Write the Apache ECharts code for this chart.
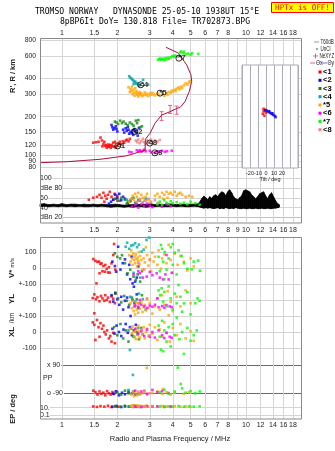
<!DOCTYPE html>
<html>
<head>
<meta charset="utf-8">
<script src="https://cdn.jsdelivr.net/npm/echarts@6/dist/echarts.min.js"></script>
<style>html,body{margin:0;padding:0;background:#fff}#c{width:335px;height:451px}</style>
</head>
<body>
<div id="c"></div>
<script>
// ---- axis ticks ----
const freqLabelsTop = [1, 1.5, 2, 3, 4, 5, 6, 7, 8, 10, 12, 14, 16, 18];
const freqLabelsMid = [1, 1.5, 2, 3, 4, 5, 6, 7, 8, 9, 10, 12, 14, 16, 18];
const freqGridLines = [1, 1.5, 2, 3, 4, 5, 6, 7, 8, 9, 10, 12, 14, 16, 18];
const heightTicks = [80, 90, 100, 120, 150, 200, 300, 400, 600, 800];
// closely spaced range labels are split over three label rows so none is dropped
const heightLabelRows = [[100, 150, 300, 600], [90, 120, 200, 400, 800], [80]];
const ampTicks = [20, 40, 60, 80, 100];
const ampTickText = { 20: 'dBn 20', 40: '40', 60: '60', 80: 'dBe 80', 100: '100' };

// ---- echo classes ----
const classNames = ['<1', '<2', '<3', '<4', '*5', '<6', '*7', '<8'];
const classColors = ['#ff0000', '#0000ff', '#118a11', '#00a8a8', '#ffa500', '#ff00ff', '#00ff00', '#f08080'];

// virtual range R' (km) versus frequency (MHz)
const rangeByClass = [
  [[1.48,125],[1.53,126],[1.58,127],[1.62,137],[1.65,130],[1.68,122],[1.7,127],[1.72,118],[1.74,120],[1.75,114],[1.77,117],[1.79,121],[1.8,116],[1.82,119],[1.84,114],[1.86,120],[1.88,117],[1.9,125],[1.94,127],[1.98,118],[2.02,122],[2.06,127],[2.1,121],[2.14,128],[2.18,125],[2.22,130],[2.26,132],[2.3,128],[2.34,134],[1.92,116],[1.96,114],[1.66,117]],
  [[1.86,172],[1.88,165],[1.9,158],[1.93,162],[1.96,168],[1.98,160],[2.0,153],[2.15,158],[2.18,150],[2.22,162],[2.25,155],[2.28,166],[2.32,147],[2.36,152],[2.4,148],[2.44,144],[2.47,160],[2.5,155],[2.54,150],[2.58,142],[2.62,163],[2.3,158],[2.42,156]],
  [[1.94,183],[1.98,180],[2.02,175],[2.07,186],[2.12,178],[2.16,183],[2.22,176],[2.28,172],[2.34,180],[2.45,170],[2.52,186],[2.56,178],[2.6,188],[2.66,165],[2.72,168],[2.4,175]],
  [[2.32,416],[2.35,405],[2.39,398],[2.42,390],[2.45,382],[2.48,372],[2.5,378],[2.53,362],[2.56,368],[2.6,355],[2.63,348],[2.66,358],[2.76,390],[2.94,358],[2.45,360]],
  [[2.36,330],[2.38,318],[2.4,345],[2.42,300],[2.44,325],[2.46,310],[2.48,292],[2.5,335],[2.52,305],[2.54,318],[2.56,296],[2.58,308],[2.6,288],[2.62,300],[2.65,312],[2.68,295],[2.7,305],[2.74,290],[2.78,298],[2.82,310],[2.86,295],[2.9,302],[2.95,290],[3.0,305],[3.05,297],[3.1,308],[3.15,300],[3.2,294],[3.3,303],[3.35,297],[3.5,300],[3.6,292],[3.7,305],[3.75,296],[3.8,312],[3.9,308],[3.95,320],[4.0,315],[4.1,325],[4.15,318],[4.2,332],[4.3,340],[4.35,328],[4.45,345],[4.5,335],[4.6,352],[4.7,365],[4.8,358],[4.9,372],[4.95,380],[2.3,340],[2.34,312]],
  [[2.32,106],[2.39,105],[2.55,109],[2.6,107],[2.65,109],[2.7,106],[2.75,108],[2.8,110],[2.85,107],[3.0,108],[3.05,105],[3.2,104],[3.3,107],[3.42,106],[3.5,108],[3.62,106],[3.72,107],[3.95,108]],
  [[3.33,560],[3.38,566],[3.42,572],[3.46,560],[3.5,566],[3.55,570],[3.6,556],[3.65,575],[3.7,562],[3.76,580],[3.82,570],[3.9,585],[3.98,600],[4.05,592],[4.12,604],[4.2,596],[4.4,640],[4.45,650],[4.55,630],[4.6,648],[4.7,620],[4.85,626],[5.0,615],[5.1,630],[5.5,622]],
  [[2.52,130],[2.56,126],[2.6,132],[2.64,124],[2.7,128],[2.75,134],[2.8,126],[2.85,122],[2.9,130],[2.95,125],[3.05,132],[3.1,124],[3.2,130],[3.3,127],[3.4,131]]
];

// echo amplitude (dB)
const ampByClass = [
  [[1.4,56],[1.48,60],[1.55,62],[1.6,66],[1.64,60],[1.68,70],[1.72,64],[1.75,58],[1.78,66],[1.82,72],[1.86,62],[1.9,56],[1.93,68],[1.97,58],[2.0,64],[2.05,54],[1.7,52]],
  [[1.8,48],[1.85,52],[1.9,56],[1.95,66],[2.0,60],[2.05,68],[2.1,55],[2.15,62],[2.2,58],[2.28,50],[2.35,54]],
  [[1.95,58],[2.0,54],[2.1,60],[2.2,56],[2.3,52],[2.4,58],[2.5,50],[2.6,55],[2.25,48]],
  [[2.25,56],[2.35,52],[2.45,60],[2.55,48],[2.65,54],[2.75,50],[2.85,58]],
  [[2.32,52],[2.38,58],[2.42,64],[2.46,56],[2.5,68],[2.55,62],[2.6,70],[2.65,58],[2.7,66],[2.75,60],[2.8,54],[2.85,62],[2.9,68],[2.95,56],[3.0,50],[3.2,64],[3.3,68],[3.4,62],[3.5,70],[3.6,66],[3.7,72],[3.8,68],[3.9,70],[4.0,66],[4.1,72],[4.2,64],[4.3,68],[4.4,70],[4.5,66],[4.7,62],[4.9,64],[5.1,62],[3.55,58],[3.75,60]],
  [[2.4,42],[2.5,45],[2.6,40],[2.7,47],[2.8,43],[2.9,48],[3.0,44],[3.1,41],[3.3,46],[3.5,42],[3.7,47],[3.9,43]],
  [[3.3,48],[3.4,52],[3.5,46],[3.6,55],[3.7,50],[3.8,47],[3.9,53],[4.0,49],[4.2,51],[4.4,48],[4.6,50],[4.8,47],[5.0,52],[5.3,49],[5.6,46]],
  [[2.55,52],[2.65,56],[2.75,50],[2.85,54],[2.95,58],[3.05,52],[3.2,55],[3.35,50]]
];

// background noise band: [MHz, low dB, high dB]
const noiseBand = [
  [0.76,42,47],[0.8,43,48],[0.85,42,46],[0.9,43,47],[0.95,42,46],[1.0,43,48],[1.06,42,46],[1.12,43,47],[1.18,42,47],[1.25,43,46],[1.32,42,47],[1.4,42,46],[1.48,43,47],[1.56,42,46],[1.65,43,47],[1.75,42,46],[1.85,41,46],[1.95,42,47],[2.06,42,46],[2.18,41,45],[2.3,42,46],[2.43,41,46],[2.57,42,47],[2.72,42,46],[2.87,41,47],[3.03,42,48],[3.2,42,46],[3.38,43,47],[3.57,42,46],[3.77,42,48],[3.98,43,47],[4.2,42,46],[4.44,43,47],[4.69,42,46],[4.95,42,47],[5.23,43,47],[5.52,42,48],
  [5.75,40,58],[5.9,39,63],[6.05,40,60],[6.2,39,56],[6.35,40,62],[6.51,39,59],[6.68,38,64],[6.85,39,66],[7.02,40,62],[7.2,38,68],[7.38,39,72],[7.57,38,70],[7.76,40,64],[7.95,39,72],[8.15,38,76],[8.36,39,70],[8.57,38,62],[8.79,40,58],[9.01,39,56],[9.24,38,60],[9.47,38,64],[9.71,39,74],[9.96,38,76],[10.21,38,74],[10.47,39,72],[10.73,38,66],[11.0,38,62],[11.28,39,58],[11.57,38,62],[11.86,38,68],[12.16,39,70],[12.47,38,72],[12.78,38,64],[13.1,39,58],[13.43,38,66],[13.77,38,70],[14.12,39,62],[14.48,39,54],[14.85,40,48],[15.2,41,46]
];

// Doppler velocity V* (m/s)
const velByClass = [
  [[1.48,56],[1.52,45],[1.56,38],[1.59,40],[1.62,25],[1.64,29],[1.68,12],[1.72,19],[1.75,-5],[1.6,-33],[1.66,-20],[1.71,-23],[1.78,-28],[1.82,-29],[1.86,29],[1.9,81],[1.92,150],[1.54,-96],[1.95,-10],[1.8,5]],
  [[1.88,40],[1.94,12],[1.97,-23],[2.02,133],[2.08,-10],[2.14,30],[2.2,54],[2.26,-40],[2.32,20],[2.39,71],[2.42,-96],[2.46,-117],[2.5,-85],[2.55,-60],[2.6,10],[2.35,-70]],
  [[1.94,92],[2.0,70],[2.07,60],[2.12,80],[2.2,30],[2.27,-33],[2.35,-10],[2.45,-54],[2.52,-75],[2.58,-40],[2.66,-85],[2.72,-20]],
  [[2.22,133],[2.26,158],[2.32,120],[2.38,140],[2.44,144],[2.5,155],[2.56,130],[2.62,146],[2.71,102],[2.78,115],[2.88,175],[2.98,190],[2.66,-60],[2.45,-30]],
  [[2.32,80],[2.36,40],[2.38,110],[2.4,60],[2.42,20],[2.44,90],[2.46,50],[2.48,70],[2.5,30],[2.52,85],[2.54,55],[2.56,10],[2.58,65],[2.6,45],[2.62,100],[2.64,25],[2.66,75],[2.7,50],[2.74,-10],[2.78,60],[2.82,35],[2.86,130],[2.9,80],[2.95,15],[3.0,55],[3.05,-20],[3.1,95],[3.15,40],[3.2,70],[3.3,20],[3.35,110],[3.45,-5],[3.5,60],[3.6,85],[3.7,30],[3.8,145],[3.9,50],[4.0,-30],[4.1,90],[4.25,20],[4.4,75],[4.6,40],[4.8,-15],[5.0,60],[5.2,10]],
  [[2.45,-40],[2.6,-20],[2.65,-33],[2.75,-60],[2.89,-54],[3.0,-25],[3.1,-45],[3.27,-33],[3.4,-60],[3.55,-71],[3.65,-40],[3.7,81],[3.8,-71],[3.95,-30]],
  [[3.35,70],[3.4,-20],[3.45,144],[3.5,120],[3.55,40],[3.62,100],[3.7,-10],[3.8,60],[3.9,130],[4.0,20],[4.1,96],[4.2,-40],[4.3,110],[4.47,75],[4.6,30],[4.8,-5],[5.07,-8],[5.2,40],[5.5,46],[5.62,-17],[3.6,-70],[4.0,150]],
  [[2.6,30],[2.8,-10],[3.0,50]]
];

// echo location YL (km)
const ylByClass = [
  [[1.47,12],[1.5,35],[1.53,5],[1.56,18],[1.6,-8],[1.63,25],[1.66,10],[1.7,-5],[1.72,30],[1.75,0],[1.78,15],[1.82,-12],[1.86,22],[1.9,8],[1.94,-20],[1.5,-83],[1.95,40]],
  [[1.86,30],[1.9,-10],[1.95,45],[2.0,5],[2.05,-30],[2.1,20],[2.15,-60],[2.2,-5],[2.26,15],[2.3,-45],[2.36,-100],[2.42,0],[2.48,-20],[2.55,35],[2.6,-50]],
  [[1.95,40],[2.02,10],[2.1,-15],[2.18,25],[2.25,-5],[2.32,-30],[2.4,15],[2.48,-40],[2.55,5],[2.65,-20],[2.72,30]],
  [[2.35,20],[2.5,-10],[2.62,40],[2.75,5],[2.85,-60]],
  [[2.36,-20],[2.4,-50],[2.42,-5],[2.45,-70],[2.48,-35],[2.5,-90],[2.52,-15],[2.55,-60],[2.58,-40],[2.6,-80],[2.62,-25],[2.65,-55],[2.7,-10],[2.74,-75],[2.78,-45],[2.82,-30],[2.86,-65],[2.9,5],[2.95,-50],[3.0,-20],[3.1,-85],[3.2,-40],[3.3,10],[3.4,-60],[3.5,30],[3.6,-30],[3.75,55],[3.9,-10],[4.0,-70],[4.2,20],[4.4,-40],[4.7,60],[5.0,-20],[3.8,-95]],
  [[2.5,-35],[2.6,-45],[2.7,-30],[2.8,-40],[2.9,-50],[3.0,-35],[3.1,-42],[3.2,-30],[3.35,-45],[3.5,-38],[3.6,-48],[3.7,-32],[3.85,-40],[3.95,-45],[2.65,0],[3.3,10]],
  [[3.35,60],[3.42,30],[3.48,73],[3.55,-10],[3.6,50],[3.7,-40],[3.8,85],[3.9,10],[4.0,-60],[4.1,40],[4.2,-20],[4.3,94],[4.4,20],[4.5,-73],[4.6,-21],[4.8,50],[5.0,-90],[5.3,-21],[5.45,10],[5.6,-5]],
  [[2.6,-20],[2.9,10]]
];

// echo location XL (km)
const xlByClass = [
  [[1.47,60],[1.5,45],[1.55,75],[1.58,30],[1.62,55],[1.65,20],[1.68,40],[1.7,0],[1.73,-15],[1.76,10],[1.8,-40],[1.83,-25],[1.86,-60],[1.9,-5],[1.94,-70],[1.6,-30],[1.52,-50]],
  [[1.88,20],[1.93,-10],[1.98,40],[2.04,0],[2.1,-25],[2.16,15],[2.22,50],[2.28,-5],[2.34,30],[2.4,-20],[2.46,10],[2.52,45],[2.58,-15]],
  [[1.92,30],[2.0,-20],[2.08,50],[2.15,-40],[2.22,10],[2.3,-60],[2.38,20],[2.46,-30],[2.55,0],[2.62,-45],[2.7,25]],
  [[2.3,10],[2.45,-30],[2.6,25],[2.34,-112],[2.75,-15]],
  [[2.36,20],[2.4,-10],[2.42,35],[2.45,0],[2.48,-30],[2.5,15],[2.52,-45],[2.55,25],[2.58,-20],[2.6,40],[2.62,5],[2.65,-35],[2.7,10],[2.74,-15],[2.78,30],[2.82,-40],[2.86,0],[2.9,20],[2.95,-25],[3.0,45],[3.1,-10],[3.2,30],[3.3,-50],[3.4,15],[3.5,-30],[3.6,60],[3.7,-5],[3.85,-60],[4.0,25],[4.2,-20],[4.4,50],[4.7,-40],[5.0,5],[5.2,-55]],
  [[2.5,20],[2.6,-10],[2.7,5],[2.8,-25],[2.9,15],[3.0,-30],[3.1,0],[3.2,-35],[3.35,10],[3.5,-20],[3.6,-38],[3.7,-5],[3.85,-30],[3.95,-36]],
  [[3.35,40],[3.4,-30],[3.5,70],[3.6,10],[3.7,-60],[3.8,30],[3.9,-90],[4.0,50],[4.1,-20],[4.2,90],[4.35,-45],[4.5,0],[4.6,-137],[4.8,25],[5.0,-55],[5.2,-20],[5.4,10],[3.45,-110],[3.55,-120]],
  [[2.7,15],[3.0,-20]]
];

// polarization PP (deg)
const ppByClass = [
  [[1.48,-75],[1.52,-85],[1.56,-100],[1.6,-80],[1.64,-95],[1.68,-88],[1.72,-105],[1.76,-78],[1.8,-92],[1.84,-100],[1.88,-84],[1.92,-96],[1.98,-80]],
  [[1.9,-95],[1.96,-80],[2.04,-105],[2.12,-88],[2.2,-98],[2.3,-82],[2.4,-92],[2.5,-100]],
  [[2.0,-85],[2.1,-100],[2.2,-75],[2.3,-92],[2.45,-80],[2.6,-96]],
  [[2.3,-70],[2.45,-85],[2.43,26],[2.65,-95],[2.8,-78]],
  [[2.38,-100],[2.42,-85],[2.46,-110],[2.5,-90],[2.55,-105],[2.6,-80],[2.65,-100],[2.7,-92],[2.8,-85],[2.89,71],[2.9,-100],[3.1,-90],[3.3,-80],[3.54,-64],[3.5,-95],[3.7,-85],[3.9,-100],[4.1,-90],[4.6,-95],[4.9,-85]],
  [[2.5,-75],[2.7,-80],[2.9,-95],[3.1,-70],[3.3,-85],[3.5,-78],[3.8,-90]],
  [[3.4,-85],[3.6,-70],[3.8,-95],[4.26,73],[4.1,-80],[4.42,-32],[4.5,-60],[4.7,-88],[5.0,-78],[5.3,-92],[5.6,-80]],
  [[2.6,-88],[2.8,-75],[3.0,-92]]
];

// EP (deg)
const epByClass = [
  [[1.48,20],[1.55,15],[1.62,25],[1.7,18],[1.78,30],[1.86,14],[1.95,22],[2.02,17]],
  [[1.88,18],[1.98,26],[2.1,15],[2.2,22],[2.32,19],[2.45,28],[2.55,16]],
  [[1.95,24],[2.08,16],[2.2,30],[2.35,18],[2.5,22],[2.65,15]],
  [[2.3,20],[2.45,14],[2.6,26],[2.78,18]],
  [[2.36,25],[2.4,35],[2.44,18],[2.48,30],[2.52,40],[2.56,22],[2.6,32],[2.65,16],[2.7,28],[2.78,20],[2.86,34],[2.95,18],[3.1,24],[3.3,16],[3.5,28],[3.7,20],[3.9,15],[4.1,26],[4.4,18],[4.7,22],[5.0,16]],
  [[2.5,20],[2.7,15],[2.9,24],[3.1,18],[3.3,22],[3.6,16],[3.9,20]],
  [[3.4,20],[3.6,15],[3.8,22],[4.0,18],[4.3,25],[4.6,16],[4.9,20],[5.2,18],[5.6,22]],
  [[2.6,20],[2.85,16],[3.1,24]]
];

// class markers placed on the range plot: [MHz, km, label]
const classMarkers = [[2.01,118,'<1'],[2.49,153,'<2'],[2.68,356,'<4'],[3.41,306,'*5'],[3.2,104,'<6'],[4.32,576,'*7'],[3.0,124,'<8']];

// real-height profile (MHz, km)
const profile = [[0.76,87],[1.06,88.5],[1.61,92.5],[2.25,98.6],[2.83,109],[2.84,133],[3.01,148],[3.2,177],[3.48,206],[3.87,219],[4.2,232],[4.38,236],[4.66,262],[4.92,316],[5.07,379],[5.02,427],[4.76,511],[4.29,632],[3.68,701]];
// profile uncertainty bars: [MHz, low km, high km]
const profileErr = [[3.48,187,219],[3.87,212,245],[4.2,209,242]];

// tilt (deg) versus range (km)
const tiltRed = [[-4,212],[-3,222],[-2,205],[-1,228],[0,216],[-3,232]];
const tiltBlue = [[-1,226],[1,224],[3,220],[5,216],[7,212],[9,208],[11,204],[12,200],[4,222],[8,214]];

// ---------------- layout ----------------
const LEFT = 40, RIGHT = 34;
const FONT = 'Liberation Sans, Arial, sans-serif';
const MONO = 'DejaVu Sans Mono, monospace';
const GRID_COLOR = '#d4d4d4';
const TXT = '#222';
const H_MIN = 72.2, H_MAX = 830;

const grids = [
  { left: LEFT, right: RIGHT, top: 38, height: 135 },   // range
  { left: LEFT, right: RIGHT, top: 173, height: 49.5 }, // amplitude
  { left: LEFT, right: RIGHT, top: 237, height: 47 },   // V*
  { left: LEFT, right: RIGHT, top: 284, height: 32 },   // YL
  { left: LEFT, right: RIGHT, top: 316, height: 49 },   // XL
  { left: LEFT, right: RIGHT, top: 365, height: 35 },   // PP
  { left: LEFT, right: RIGHT, top: 400, height: 19 },   // EP
  { left: 242, top: 65, width: 56, height: 103, show: true, backgroundColor: '#fff', borderColor: '#aab', borderWidth: 1, z: 2 } // tilt inset
];

const fmtFreq = v => String(Math.round(v * 10) / 10);

function freqAxis(gi, labels, position, margin) {
  return {
    type: 'log', logBase: 10, gridIndex: gi, min: 0.76, max: 19.9,
    position: position || 'bottom',
    axisLine: { show: false },
    axisTick: { show: false, customValues: freqGridLines },
    axisLabel: labels ? { show: true, hideOverlap: false, customValues: labels, fontSize: 7, fontFamily: FONT, color: TXT, margin: margin, formatter: fmtFreq } : { show: false },
    splitLine: { show: true, lineStyle: { color: GRID_COLOR, width: 1 } },
    minorTick: { show: false }, minorSplitLine: { show: false }
  };
}

const xAxes = [
  freqAxis(0, freqLabelsTop, 'top', 1.5),
  freqAxis(1, freqLabelsMid, 'bottom', 4),
  freqAxis(2), freqAxis(3), freqAxis(4), freqAxis(5),
  freqAxis(6, freqLabelsTop, 'bottom', 2.5),
  {
    type: 'value', gridIndex: 7, min: -30, max: 40, interval: 10, z: 3,
    axisLine: { show: false }, axisTick: { show: false },
    axisLabel: { fontSize: 5.5, fontFamily: FONT, color: TXT, margin: 2, formatter: v => (v >= -20 && v <= 20 ? String(v) : '') },
    splitLine: { show: true, lineStyle: { color: '#aab' } },
    name: 'Tilt / deg', nameLocation: 'middle', nameGap: 8, nameTextStyle: { fontSize: 5.5, fontFamily: FONT, color: TXT }
  }
];

function sideAxis(gi, opts) {
  return Object.assign({
    gridIndex: gi, position: 'left', axisLine: { show: false },
    splitLine: { show: true, lineStyle: { color: GRID_COLOR } }
  }, opts);
}
const lbl = (extra) => Object.assign({ fontSize: 7, fontFamily: FONT, color: TXT, hideOverlap: false, showMinLabel: true, showMaxLabel: true }, extra);
const logHeightTicks = heightTicks.map(v => Math.log10(v));
const fmtHeight = v => String(Math.round(Math.pow(10, v)));

const yAxes = [
  // range scale for the echoes (log)
  { type: 'log', logBase: 10, gridIndex: 0, min: H_MIN, max: H_MAX,
    axisLine: { show: false }, axisTick: { show: false }, axisLabel: { show: false },
    splitLine: { show: false }, minorTick: { show: false }, minorSplitLine: { show: false } },
  sideAxis(1, { type: 'value', min: 10, max: 110,
    axisTick: { show: false, customValues: ampTicks },
    axisLabel: lbl({ customValues: ampTicks, inside: true, margin: 0, backgroundColor: '#fff', formatter: v => ampTickText[Math.round(v)] || '' }),
    splitLine: { show: true, lineStyle: { color: ['#bcbcec', GRID_COLOR, GRID_COLOR, GRID_COLOR, GRID_COLOR] } } }),
  sideAxis(2, { type: 'value', min: -100, max: 193.75,
    axisTick: { show: false, customValues: [0, 100] },
    axisLabel: lbl({ customValues: [0, 100], margin: 3.5 }) }),
  sideAxis(3, { type: 'value', min: -100, max: 100,
    axisTick: { show: false, customValues: [0, 100] },
    axisLabel: lbl({ customValues: [0, 100], margin: 3.5, formatter: v => (v === 100 ? '+-100' : String(v)) }) }),
  sideAxis(4, { type: 'value', min: -206.25, max: 100,
    axisTick: { show: false, customValues: [-100, 0, 100] },
    axisLabel: lbl({ customValues: [-100, 0, 100], margin: 3.5, formatter: v => (v === 100 ? '+-100' : String(v)) }) }),
  sideAxis(5, { type: 'value', min: -135, max: 90,
    axisTick: { show: false, customValues: [-90, 90] },
    axisLabel: lbl({ customValues: [-90, 90], inside: true, margin: 1, backgroundColor: '#fff', padding: [1, 1, 1, 6], formatter: v => (v > 0 ? 'x 90' : 'o -90') }),
    splitLine: { show: true, lineStyle: { color: '#6a6a6a', width: 1.2 } } }),
  sideAxis(6, { type: 'log', logBase: 10, min: 0.01, max: 1000,
    axisTick: { show: false, customValues: [0.1, 10] },
    axisLabel: lbl({ customValues: [0.1, 10], inside: true, margin: 0, backgroundColor: '#fff', formatter: v => (v > 1 ? '10.' : '0.1') }),
    minorTick: { show: false }, minorSplitLine: { show: false } }),
  { type: 'log', logBase: 10, gridIndex: 7, min: 80, max: 510, z: 3,
    axisLine: { show: false }, axisTick: { show: false }, axisLabel: { show: false },
    splitLine: { show: false }, minorSplitLine: { show: false } }
];
// range tick labels and grid lines, placed in decades on the range grid
heightLabelRows.forEach((row, r) => {
  const vals = row.map(v => Math.log10(v));
  yAxes.push(sideAxis(0, { type: 'value', min: Math.log10(H_MIN), max: Math.log10(H_MAX),
    axisTick: { show: false, customValues: r === 0 ? logHeightTicks : vals },
    axisLabel: lbl({ customValues: vals, margin: 4, fontSize: 6.8, formatter: fmtHeight }),
    splitLine: { show: r === 0, lineStyle: { color: GRID_COLOR } } }));
});

// ---------------- series ----------------
const series = [];

// background noise drawn as a filled band between low and high values
series.push({
  type: 'custom', xAxisIndex: 1, yAxisIndex: 1, data: noiseBand, silent: true, z: 2,
  renderItem: function (params, api) {
    const i = params.dataIndex;
    if (i >= noiseBand.length - 1) return null;
    const n = noiseBand[i + 1];
    const a = api.coord([api.value(0), api.value(1)]);
    const b = api.coord([api.value(0), api.value(2)]);
    const c = api.coord([n[0], n[2]]);
    const d = api.coord([n[0], n[1]]);
    return { type: 'polygon', shape: { points: [a, b, c, d] }, style: { fill: '#000', stroke: '#000', lineWidth: 0.8 } };
  }
});

const panels = [rangeByClass, ampByClass, velByClass, ylByClass, xlByClass, ppByClass, epByClass];
panels.forEach((byClass, gi) => {
  byClass.forEach((pts, k) => {
    series.push({
      type: 'scatter', xAxisIndex: gi, yAxisIndex: gi, data: pts,
      symbol: 'rect', symbolSize: 2.6, clip: false, silent: true, z: 3,
      itemStyle: { color: classColors[k] }
    });
  });
});

// real-height profile
series.push({
  type: 'line', xAxisIndex: 0, yAxisIndex: 0, data: profile, showSymbol: false, symbol: 'none',
  lineStyle: { color: '#a8123e', width: 1 }, silent: true, z: 4
});
// profile uncertainty bars
series.push({
  type: 'custom', xAxisIndex: 0, yAxisIndex: 0, data: profileErr, silent: true, z: 4,
  renderItem: function (params, api) {
    const lo = api.coord([api.value(0), api.value(1)]);
    const hi = api.coord([api.value(0), api.value(2)]);
    const st = { stroke: '#e0608c', lineWidth: 1 };
    return { type: 'group', children: [
      { type: 'line', shape: { x1: lo[0], y1: lo[1], x2: hi[0], y2: hi[1] }, style: st },
      { type: 'line', shape: { x1: lo[0] - 2, y1: lo[1], x2: lo[0] + 2, y2: lo[1] }, style: st },
      { type: 'line', shape: { x1: hi[0] - 2, y1: hi[1], x2: hi[0] + 2, y2: hi[1] }, style: st }
    ] };
  }
});
// class markers
series.push({
  type: 'scatter', xAxisIndex: 0, yAxisIndex: 0, data: classMarkers, silent: true, z: 5,
  symbol: 'circle', symbolSize: 6, itemStyle: { color: 'rgba(255,255,255,0)', borderColor: '#000', borderWidth: 1 },
  label: { show: true, position: 'inside', offset: [3, 0], formatter: p => p.data[2], fontSize: 8, fontWeight: 'bold', fontFamily: FONT, color: '#000' }
});
// tilt inset
series.push({ type: 'scatter', xAxisIndex: 7, yAxisIndex: 7, data: tiltRed, symbol: 'rect', symbolSize: 2.6, itemStyle: { color: '#ff0000' }, z: 6, silent: true });
series.push({ type: 'scatter', xAxisIndex: 7, yAxisIndex: 7, data: tiltBlue, symbol: 'rect', symbolSize: 2.6, itemStyle: { color: '#0000ff' }, z: 6, silent: true });

// ---------------- annotations ----------------
function txt(x, y, text, o) {
  o = o || {};
  return { type: 'text', x: x, y: y, rotation: o.rot || 0, scaleX: o.sx || 1, z: 10,
    style: { text: text, font: o.font || ('7px ' + FONT), fill: o.fill || TXT,
      textAlign: o.align || 'left', align: o.align || 'left',
      textVerticalAlign: 'middle', verticalAlign: 'middle', rich: o.rich } };
}
function seg(x1, y1, x2, y2, color, w) {
  return { type: 'line', z: 10, shape: { x1: x1, y1: y1, x2: x2, y2: y2 }, style: { stroke: color, lineWidth: w || 1 } };
}
const KEY_FONT = '6.5px ' + FONT;

const graphics = [
  // frames
  { type: 'rect', z: 9, shape: { x: 40.5, y: 38.5, width: 261, height: 184.5 }, style: { fill: 'none', stroke: '#8a8a8a', lineWidth: 1 } },
  { type: 'rect', z: 9, shape: { x: 40.5, y: 237.5, width: 261, height: 181.5 }, style: { fill: 'none', stroke: '#8a8a8a', lineWidth: 1 } },
  // title
  txt(35, 12, 'TROMSO NORWAY   DYNASONDE 25-05-10 1938UT 15°E', { font: '8.1px ' + MONO, fill: '#000' }),
  txt(60, 21.5, '8pBP6It DoY= 130.818 File= TR702873.BPG', { font: '8.1px ' + MONO, fill: '#000' }),
  // transmitter flag
  { type: 'rect', z: 10, shape: { x: 271.5, y: 2.5, width: 62, height: 10 }, style: { fill: '#ffff00', stroke: '#ff0000', lineWidth: 1 } },
  txt(302.5, 8, 'HPTx is OFF!', { font: '7.6px ' + MONO, fill: '#ff0000', align: 'center' }),
  // axis titles
  txt(13, 76, "R', R / km", { font: 'bold 7.5px ' + FONT, align: 'center', rot: Math.PI / 2 }),
  txt(12, 268, '{a|V*} {b|m/s}', { align: 'center', rot: Math.PI / 2, rich: { a: { font: 'bold 8px ' + FONT, fill: TXT }, b: { font: '6px ' + FONT, fill: TXT } } }),
  txt(12, 299, 'YL', { font: 'bold 8px ' + FONT, align: 'center', rot: Math.PI / 2 }),
  txt(12, 318, '/km', { font: '6.5px ' + FONT, align: 'center', rot: Math.PI / 2 }),
  txt(12, 332, 'XL', { font: 'bold 8px ' + FONT, align: 'center', rot: Math.PI / 2 }),
  txt(13, 409, 'EP / deg', { font: 'bold 7.5px ' + FONT, align: 'center', rot: Math.PI / 2 }),
  txt(43, 378, 'PP', { font: '7px ' + FONT }),
  txt(170, 439, 'Radio and Plasma Frequency / MHz', { font: '7.5px ' + FONT, align: 'center' }),
  // key
  seg(314, 42, 319, 42, '#999'), txt(320.5, 42, 'T60dB', { font: KEY_FONT, sx: 0.7 }),
  { type: 'circle', z: 10, shape: { cx: 317, cy: 49, r: 0.7 }, style: { fill: '#000' } }, txt(320.5, 49, 'UnCl', { font: KEY_FONT, sx: 0.7 }),
  seg(313, 56, 318, 56, '#e0608c'), seg(315.5, 53.5, 315.5, 58.5, '#e0608c'), txt(319.5, 56, 'NeXYZ', { font: KEY_FONT, sx: 0.7 }),
  seg(310, 63, 315, 63, '#e0608c'), txt(316, 63, 'Θx', { font: KEY_FONT, sx: 0.8 }),
  seg(322, 63, 327, 63, '#7070e0'), txt(327.5, 63, 'Θy', { font: KEY_FONT, sx: 0.8 })
];
const keyY = [72, 80.3, 88.5, 96.7, 105, 113.2, 121.5, 129.7];
classNames.forEach((nm, k) => {
  graphics.push({ type: 'rect', z: 10, shape: { x: 318.5, y: keyY[k] - 1.5, width: 3, height: 3 }, style: { fill: classColors[k] } });
  graphics.push(txt(323, keyY[k], nm, { font: 'bold 7.5px ' + FONT, fill: '#000' }));
});

const chart = echarts.init(document.getElementById('c'), null, { renderer: 'canvas', width: 335, height: 451 });
chart.setOption({
  animation: false,
  backgroundColor: '#fff',
  grid: grids,
  xAxis: xAxes,
  yAxis: yAxes,
  series: series,
  graphic: { elements: graphics }
});
</script>
</body>
</html>
